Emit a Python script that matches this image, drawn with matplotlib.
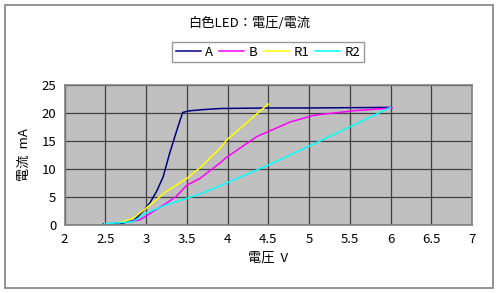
import numpy as np
import matplotlib
matplotlib.use('Agg')
import matplotlib.pyplot as plt
from matplotlib.patches import Rectangle
from matplotlib.ticker import FuncFormatter

plt.rcParams['font.family'] = ['Noto Sans CJK JP', 'DejaVu Sans']

# values
a_v = [2.48, 2.7, 2.85, 2.96, 3.05, 3.13, 3.21, 3.29, 3.38, 3.45, 3.54, 3.7, 3.91, 4.5, 5.0, 6.0]
a_i = [0.2, 0.3, 0.8, 2.4, 4.0, 6.0, 8.6, 12.8, 17.0, 20.1, 20.4, 20.6, 20.8, 20.9, 20.9, 21.0]

b_v = [2.8, 2.92, 3.0, 3.25, 3.37, 3.5, 3.66, 3.91, 3.99, 4.36, 4.77, 5.06, 5.55, 6.02]
b_i = [0.6, 0.9, 1.6, 3.9, 5.1, 7.1, 8.3, 11.1, 12.1, 15.8, 18.4, 19.6, 20.4, 20.9]

r1_v = [2.67, 2.84, 3.0, 3.25, 3.5, 3.66, 3.91, 3.99, 4.5]
r1_i = [0.4, 1.2, 3.0, 6.0, 8.3, 10.2, 13.7, 15.2, 21.6]

r2_v = [2.49, 2.84, 3.0, 3.25, 3.66, 3.91, 4.5, 5.18, 6.0]
r2_i = [0.2, 0.6, 2.1, 3.6, 5.5, 7.0, 10.7, 15.3, 21.0]

series = [('A', a_v, a_i, '#000080'),
          ('B', b_v, b_i, '#FF00FF'),
          ('R1', r1_v, r1_i, '#FFFF00'),
          ('R2', r2_v, r2_i, '#00FFFF')]

fig = plt.figure(figsize=(4.99, 2.93), dpi=100)
fig.patches.append(Rectangle((5 / 499, 5 / 293), 488 / 499, 283 / 293,
                             transform=fig.transFigure, fill=False,
                             edgecolor='#808080', linewidth=1.2))

ax = fig.add_axes([64.5 / 499, 1 - 225 / 293, 407.5 / 499, 140 / 293])
ax.set_facecolor('#C0C0C0')

lines = []
for name, v, i, c in series:
    ln, = ax.plot(v, i, color=c, linewidth=1.1, label=name)
    lines.append(ln)

ax.set_xlim(2, 7)
ax.set_ylim(0, 25)
ax.set_xticks(np.arange(2, 7.01, 0.5))
ax.set_yticks(np.arange(0, 26, 5))
ax.xaxis.set_major_formatter(FuncFormatter(lambda x, p: '%g' % x))
ax.grid(True, color='#404040', linewidth=0.9)
ax.set_axisbelow(True)
ax.tick_params(length=0, labelsize=9.5, pad=6)
for s in ax.spines.values():
    s.set_color('#808080')
    s.set_linewidth(1.2)

ax.set_xlabel('電圧  V', fontsize=9.5, labelpad=4)
ax.set_ylabel('電流  mA', fontsize=9.5, labelpad=8)

fig.text(0.5, 1 - 23 / 293, '白色LED：電圧/電流', ha='center', va='center', fontsize=9.5)

leg = fig.legend(handles=lines, loc='center', ncol=4,
                 bbox_to_anchor=(268 / 499, 1 - 52 / 293),
                 fontsize=9.5, frameon=True, fancybox=False,
                 handlelength=1.9, handletextpad=0.35, columnspacing=0.45,
                 borderpad=0.3, borderaxespad=0)
leg.get_frame().set_edgecolor('#808080')
leg.get_frame().set_linewidth(1.0)

fig.savefig('out.png', dpi=100)
